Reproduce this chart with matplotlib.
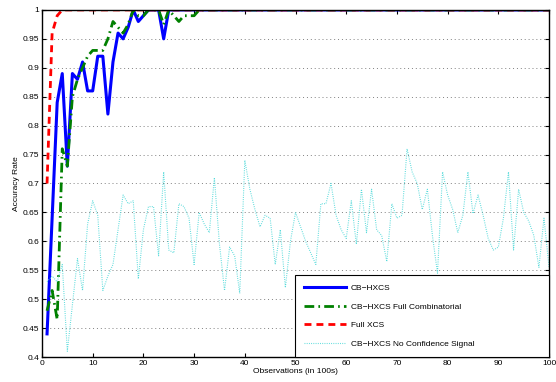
import numpy as np
import matplotlib.pyplot as plt

plt.rcParams['font.family'] = ['Liberation Sans', 'DejaVu Sans']

# Observations (in 100s)
obs = np.arange(1, 101)

# CB-HXCS
cb_hxcs = [0.44, 0.64, 0.84, 0.89, 0.73, 0.89, 0.88, 0.91, 0.86, 0.86,
           0.92, 0.92, 0.82, 0.91, 0.96, 0.95, 0.97, 1.00, 0.98, 0.99,
           1.00, 1.00, 1.00, 0.95] + [1.00] * 76

# CB-HXCS Full Combinatorial
cb_full = [0.48, 0.515, 0.465, 0.76, 0.73, 0.85, 0.88, 0.90, 0.92, 0.93,
           0.93, 0.93, 0.95, 0.98, 0.97, 0.96, 0.975, 1.00, 0.99, 0.99,
           1.00, 1.00, 1.00, 0.975, 1.00, 0.99, 0.98, 0.99, 0.99, 0.99] + [1.00] * 70

# Full XCS
full_xcs = [0.70, 0.96, 0.99] + [1.00] * 97

# CB-HXCS No Confidence Signal
cb_noconf = [0.53, 0.54, 0.53, 0.56, 0.41, 0.49, 0.57, 0.515, 0.63, 0.67,
             0.645, 0.515, 0.54, 0.56, 0.62, 0.68, 0.665, 0.67, 0.535, 0.62,
             0.66, 0.66, 0.575, 0.72, 0.585, 0.58, 0.665, 0.66, 0.64, 0.56,
             0.65, 0.63, 0.615, 0.71, 0.595, 0.515, 0.59, 0.575, 0.51, 0.74,
             0.69, 0.655, 0.625, 0.645, 0.64, 0.56, 0.62, 0.52, 0.60, 0.65,
             0.625, 0.60, 0.58, 0.56, 0.665, 0.665, 0.70, 0.645, 0.62, 0.605,
             0.67, 0.595, 0.69, 0.615, 0.69, 0.62, 0.61, 0.565, 0.665, 0.64,
             0.645, 0.76, 0.72, 0.70, 0.655, 0.69, 0.61, 0.545, 0.72, 0.68,
             0.655, 0.615, 0.645, 0.72, 0.648, 0.68, 0.645, 0.605, 0.585, 0.59,
             0.64, 0.72, 0.585, 0.69, 0.65, 0.635, 0.61, 0.555, 0.64, 0.555]

fig = plt.figure(figsize=(5.56, 3.82), dpi=100)
ax = fig.add_axes([0.0755, 0.0654, 0.912, 0.9086])

ax.plot(obs, cb_hxcs, color='#0000ff', lw=2.2, label='CB\u2212HXCS')
ax.plot(obs, cb_full, color='#008000', lw=2.0, ls=(0, (3.5, 1.5, 0.6, 1.5)),
        label='CB\u2212HXCS Full Combinatorial')
ax.plot(obs, full_xcs, color='#ff0000', lw=2.0, ls=(0, (2.5, 1.8)), label='Full XCS')
ax.plot(obs, cb_noconf, color='#55dada', lw=0.8, ls=(0, (0.8, 1.2)),
        label='CB\u2212HXCS No Confidence Signal')

ax.set_xlim(0, 100)
ax.set_ylim(0.4, 1.0)
ax.set_xticks(np.arange(0, 101, 10))
yt = np.arange(0.4, 1.001, 0.05)
ax.set_yticks(yt)
ax.set_yticklabels([f'{v:g}' for v in np.round(yt, 2)])
ax.yaxis.grid(True, ls=(0, (1, 3)), color='#808080', lw=0.7)
ax.tick_params(direction='in', top=True, right=True, labelsize=6, length=3, pad=2)
for s in ax.spines.values():
    s.set_linewidth(1.0)

ax.set_xlabel('Observations (in 100s)', fontsize=6, labelpad=1)
ax.set_ylabel('Accuracy Rate', fontsize=6, labelpad=2)

# legend box stretched over the right half of the bottom edge
leg = ax.legend(loc='lower left', bbox_to_anchor=(0.499, 0.0, 0.501, 0.236),
                mode='expand', fontsize=6, fancybox=False, framealpha=1,
                edgecolor='black', borderaxespad=0, handlelength=5.0,
                labelspacing=1.3, borderpad=1.1, handletextpad=0.6)
leg.get_frame().set_linewidth(0.8)

fig.savefig('out.png', dpi=100)
